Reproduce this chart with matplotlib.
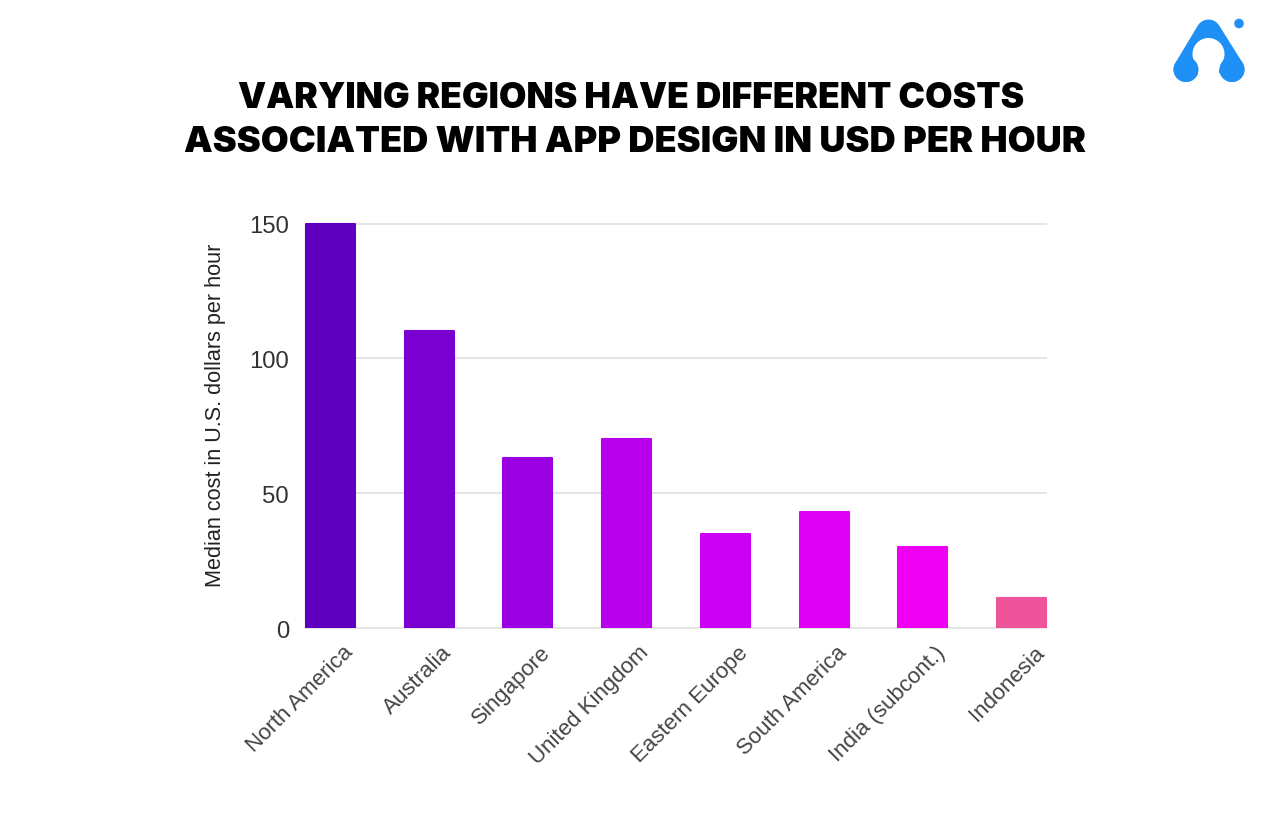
import matplotlib
matplotlib.use("Agg")
import matplotlib.pyplot as plt
from matplotlib.patches import Circle, Rectangle, Polygon
from matplotlib.lines import Line2D

regions = ["North America", "Australia", "Singapore", "United Kingdom",
           "Eastern Europe", "South America", "India (subcont.)", "Indonesia"]
costs = [150, 110, 63, 70, 35, 43, 30, 11]
bar_colors = ["#5f00c0", "#7a00d2", "#9b00e2", "#b900ec",
              "#cb00f3", "#e000f6", "#ee00f2", "#ee5499"]
y_ticks = [0, 50, 100, 150]
title_line_1 = "VARYING REGIONS HAVE DIFFERENT COSTS"
title_line_2 = "ASSOCIATED WITH APP DESIGN IN USD PER HOUR"
y_label = "Median cost in U.S. dollars per hour"

W, H = 1269, 829
fig = plt.figure(figsize=(W / 100, H / 100), dpi=100, facecolor="white")
plt.rcParams["font.family"] = ["Liberation Sans", "DejaVu Sans"]

# Plot area in pixels: x 305..1047, y 224.5 (value 150)..629 (value 0)
ax = fig.add_axes([305 / W, 1 - 629 / H, 742 / W, 404.5 / H])
ax.set_xlim(-0.258, 7.258)
ax.set_ylim(0, 150)
for s in ax.spines.values():
    s.set_visible(False)

ax.set_yticks(y_ticks)
ax.set_yticklabels([str(v) for v in y_ticks], fontsize=17.2, color="#333333",
                   family=["Liberation Sans"])
ax.tick_params(axis="y", length=0, pad=11.5)
ax.tick_params(axis="x", length=0, pad=6)
ax.grid(axis="y", color="#dedede", lw=1.1, zorder=0)
ax.set_axisbelow(True)
for t in ax.yaxis.get_gridlines():
    t.set_clip_on(False)
    t.set_solid_capstyle("butt")

bars = ax.bar(range(len(regions)), costs, width=0.517 - 0.02, color=bar_colors,
              edgecolor=bar_colors, linewidth=1.5, joinstyle="round", zorder=3)
clip = Rectangle((-2, 0), 14, 300, transform=ax.transData)
for b in bars:
    b.set_clip_path(clip)

ax.set_xticks(range(len(regions)))
ax.set_xticklabels(regions, rotation=45, ha="right", rotation_mode="anchor",
                   fontsize=16, color="#444444", family=["Liberation Sans"])
for lab in ax.get_xticklabels():
    lab.set_transform(lab.get_transform() + matplotlib.transforms.ScaledTranslation(12 / 100, -5 / 100, fig.dpi_scale_trans))

fig.text(215 / W, 1 - 415 / H, y_label, rotation=90, ha="center", va="center",
         fontsize=15.6, color="#222222", family=["Liberation Sans"])

title_fonts = ["Inter", "Roboto", "DejaVu Sans"]
fig.text(631.5 / W, 1 - 108 / H, title_line_1, ha="center", va="baseline", fontsize=25.5,
         fontweight="black", family=title_fonts, color="#000000")
fig.text(635 / W, 1 - 152 / H, title_line_2, ha="center", va="baseline", fontsize=26,
         fontweight="black", family=title_fonts, color="#000000")

# Logo, in pixel coordinates
logo = fig.add_axes([0, 0, 1, 1], facecolor="none")
logo.set_xlim(0, W)
logo.set_ylim(H, 0)
logo.axis("off")
blue = "#1e90f5"
logo.add_line(Line2D([1186, 1208.5, 1232], [70.5, 33, 70.5], color=blue, lw=18,
                     solid_capstyle="round", solid_joinstyle="round", zorder=1))
logo.add_patch(Polygon([[1186, 70.5], [1208.5, 33], [1232, 70.5]], closed=True,
                       fc=blue, ec="none", zorder=1))
logo.add_patch(Circle((1208.5, 55), 16, fc="white", ec="none", zorder=2))
logo.add_patch(Polygon([[1193, 55], [1224, 55], [1219, 72], [1219, 90], [1198, 90], [1198, 72]],
                       closed=True, fc="white", ec="none", zorder=2))
logo.add_patch(Circle((1186, 70.5), 12.5, fc=blue, ec="none", zorder=3))
logo.add_patch(Circle((1232, 70.5), 12.5, fc=blue, ec="none", zorder=3))
logo.add_patch(Circle((1239, 24.5), 4.8, fc=blue, ec="none", zorder=3))

fig.savefig("out.png", dpi=100, facecolor="white")
